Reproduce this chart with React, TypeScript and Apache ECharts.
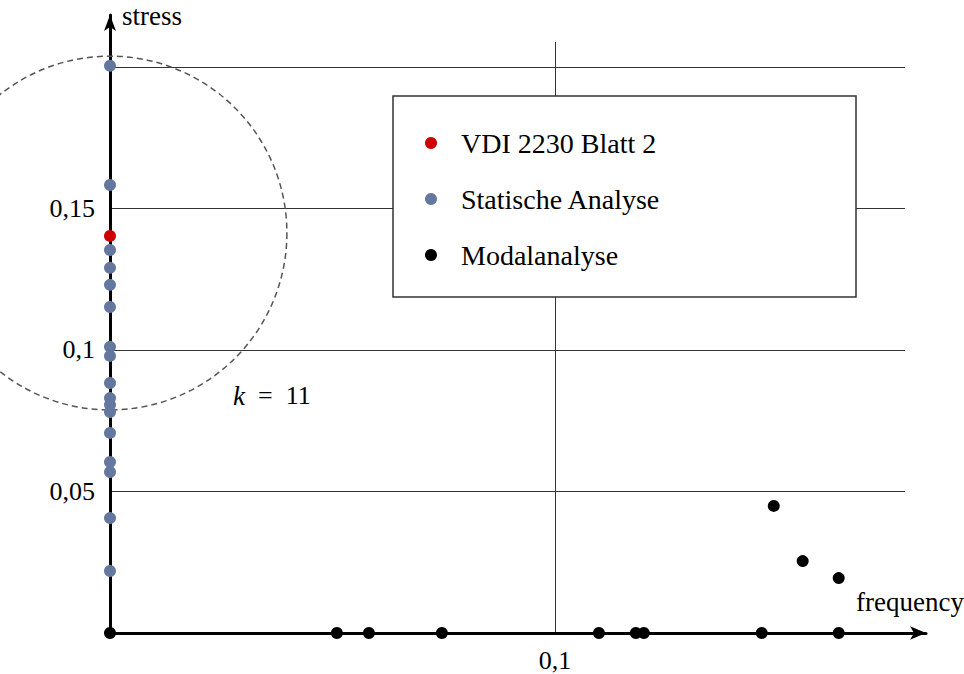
import React, { useEffect, useRef } from "react";
import * as echarts from "echarts";

// ---- data ----
const vdiPoints: number[][] = [[0, 0.1403]];
const staticPoints: number[][] = [
  [0, 0.2004], [0, 0.1583], [0, 0.1353], [0, 0.129], [0, 0.123], [0, 0.1152],
  [0, 0.1011], [0, 0.0979], [0, 0.0883], [0, 0.083], [0, 0.0806], [0, 0.0781],
  [0, 0.0707], [0, 0.0604], [0, 0.0569], [0, 0.0406], [0, 0.0219],
];
const modalPoints: number[][] = [
  [0, 0], [0.051, 0], [0.0582, 0], [0.0746, 0], [0.1099, 0], [0.1182, 0],
  [0.12, 0], [0.1465, 0], [0.1638, 0],
  [0.1492, 0.0449], [0.1557, 0.0254], [0.1638, 0.0194],
];
const circleData: number[][] = [[0, 0.1413, 0.0625]]; // centre x, centre y, radius (y units)
const seriesNames = ["VDI 2230 Blatt 2", "Statische Analyse", "Modalanalyse"];
const xTickLabels: Record<string, string> = { "0.1": "0,1" };
const yTickLabels: Record<string, string> = { "0.05": "0,05", "0.1": "0,1", "0.15": "0,15" };
const xRange = [0, 0.1787];
const yRange = [0, 0.2088];

const FONT = "Liberation Serif";

export default function App() {
  const ref = useRef<HTMLDivElement>(null);
  useEffect(() => {
    if (!ref.current) return;
    const chart = echarts.init(ref.current, undefined, { renderer: "svg" });
    const fmt = (map: Record<string, string>) => (v: number) => {
      const k = String(Math.round(v * 1000) / 1000);
      return map[k] ?? "";
    };
    chart.setOption({
      animation: false,
      backgroundColor: "#fff",
      grid: [
        { left: 110, right: 59, top: 42, bottom: 41 },
        { left: 110, right: 38, top: 15, bottom: 41 },
      ],
      xAxis: [
        {
          type: "value", gridIndex: 0, min: xRange[0], max: xRange[1], interval: 0.1,
          axisLine: { show: false }, axisTick: { show: false },
          axisLabel: { formatter: fmt(xTickLabels), fontFamily: FONT, fontSize: 26, color: "#000", margin: 14, showMaxLabel: false },
          splitLine: { show: true, showMaxLine: false, lineStyle: { color: "#333", width: 1 } },
        },
        {
          type: "value", gridIndex: 1, min: 0, max: 1,
          axisLine: { show: true, onZero: false, symbol: ["none", "arrow"], symbolSize: [10, 16], lineStyle: { color: "#000", width: 3 } },
          axisTick: { show: false }, axisLabel: { show: false }, splitLine: { show: false },
        },
      ],
      yAxis: [
        {
          type: "value", gridIndex: 0, min: yRange[0], max: yRange[1], interval: 0.05,
          axisLine: { show: false }, axisTick: { show: false },
          axisLabel: { formatter: fmt(yTickLabels), fontFamily: FONT, fontSize: 26, color: "#000", margin: 15 },
          splitLine: { show: true, showMaxLine: false, lineStyle: { color: "#333", width: 1 } },
        },
        {
          type: "value", gridIndex: 1, min: 0, max: 1,
          axisLine: { show: true, onZero: false, symbol: ["none", "arrow"], symbolSize: [9, 16], lineStyle: { color: "#000", width: 3 } },
          axisTick: { show: false }, axisLabel: { show: false }, splitLine: { show: false },
        },
      ],
      legend: {
        orient: "vertical",
        left: 393,
        top: 96,
        padding: [32, 12, 26, 32],
        itemGap: 26,
        itemWidth: 50,
        itemHeight: 12,
        icon: "circle",
        data: seriesNames,
        textStyle: { fontFamily: FONT, fontSize: 28, color: "#000", lineHeight: 30, padding: [0, 0, 0, 0] },
        z: 10,
      },
      graphic: [
        {
          type: "rect", z: 5,
          shape: { x: 393, y: 96, width: 463, height: 201 },
          style: { fill: "#fff", stroke: "#333", lineWidth: 1.5 },
        },
        {
          type: "text", left: 122, top: 2,
          style: { text: "stress", font: `27px "${FONT}"`, fill: "#000" },
        },
        {
          type: "text", left: 856, top: 588,
          style: { text: "frequency", font: `27px "${FONT}"`, fill: "#000" },
        },
        {
          type: "text", left: 233, top: 382,
          style: {
            text: "{k|k}\u2002=\u200211",
            font: `26px "${FONT}"`,
            fill: "#000",
            rich: { k: { fontStyle: "italic", fontFamily: FONT, fontSize: 27 } },
          },
        },
      ],
      series: [
        {
          type: "custom", xAxisIndex: 0, yAxisIndex: 0, silent: true, z: 1,
          data: circleData,
          renderItem: (params: any, api: any) => {
            const c = api.coord([api.value(0), api.value(1)]);
            const r = api.size([0, api.value(2)])[1];
            return {
              type: "circle",
              shape: { cx: c[0], cy: c[1], r },
              style: { fill: "none", stroke: "#555", lineWidth: 1.5, lineDash: [6, 4] },
            };
          },
        },
        {
          name: seriesNames[1], type: "scatter", xAxisIndex: 0, yAxisIndex: 0,
          data: staticPoints, symbolSize: 12, itemStyle: { color: "#64779f", opacity: 1 }, z: 3,
        },
        {
          name: seriesNames[0], type: "scatter", xAxisIndex: 0, yAxisIndex: 0,
          data: vdiPoints, symbolSize: 12, itemStyle: { color: "#cc0000", opacity: 1 }, z: 4,
        },
        {
          name: seriesNames[2], type: "scatter", xAxisIndex: 0, yAxisIndex: 0,
          data: modalPoints, symbolSize: 12, itemStyle: { color: "#000", opacity: 1 }, z: 4,
        },
      ],
    });
    return () => chart.dispose();
  }, []);
  return (
    <div
      ref={ref}
      style={{ position: "absolute", left: 0, top: 0, width: 964, height: 674 }}
    />
  );
}
